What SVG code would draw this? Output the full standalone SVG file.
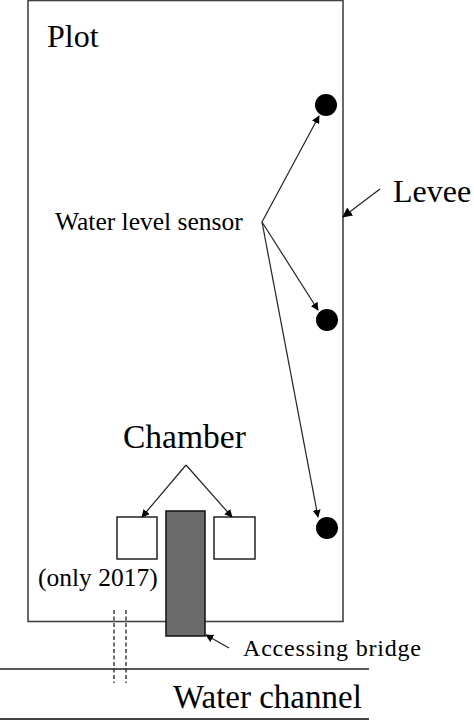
<svg xmlns="http://www.w3.org/2000/svg" width="474" height="721" viewBox="0 0 474 721">
<style>
text{font-family:"Liberation Serif","Times New Roman",serif;fill:#000}
.ln{stroke:#222;stroke-width:1.2;fill:none}
.box{fill:#fff;stroke:#222;stroke-width:1.5}
.dash{stroke:#222;stroke-width:1.3;stroke-dasharray:4,2.5;fill:none}
</style>
<defs>
<marker id="ah" viewBox="0 0 10 10" refX="9" refY="5" markerWidth="8" markerHeight="8" markerUnits="userSpaceOnUse" orient="auto">
<path d="M0,0 L10,5 L0,10 z" fill="#000"/>
</marker>
<marker id="ahL" viewBox="0 0 10 10" refX="9" refY="5" markerWidth="10" markerHeight="10" markerUnits="userSpaceOnUse" orient="auto">
<path d="M0,0 L10,5 L0,10 z" fill="#000"/>
</marker>
</defs>
<rect width="474" height="721" fill="#fff"/>
<g id="plot">
<rect x="28" y="0.5" width="315" height="621" fill="#fff" stroke="#444" stroke-width="1.6"/>
<text x="47" y="47" font-size="32">Plot</text>
</g>
<g id="levee">
<text x="393" y="202" font-size="32">Levee</text>
</g>
<g id="sensor-label">
<text x="55" y="230" font-size="25.5">Water level sensor</text>
</g>
<g id="sensor1"><circle cx="326" cy="105" r="11" fill="#000"/></g>
<g id="sensor2"><circle cx="327" cy="320" r="11" fill="#000"/></g>
<g id="sensor3"><circle cx="327" cy="528" r="11" fill="#000"/></g>
<g id="chamber-label">
<text x="123" y="448" font-size="33.5">Chamber</text>
</g>
<g id="chamber1"><rect class="box" x="117" y="517" width="40" height="42"/></g>
<g id="chamber2"><rect class="box" x="214" y="517" width="41" height="42"/></g>
<g id="only2017"><text x="38" y="586" font-size="25.5">(only 2017)</text></g>
<g id="bridge"><rect x="166" y="511" width="39" height="125" fill="#6b6b6b" stroke="#111" stroke-width="1.5"/></g>
<g id="bridge-label"><text x="243" y="656" font-size="24" textLength="178" lengthAdjust="spacing">Accessing  bridge</text></g>
<g id="channel">
<line x1="0" y1="669" x2="369" y2="669" stroke="#222" stroke-width="1.5"/>
<line x1="0" y1="719" x2="369" y2="719" stroke="#444" stroke-width="2"/>
<text x="173" y="708" font-size="33">Water channel</text>
</g>
<g id="pipe">
<line class="dash" x1="114" y1="610" x2="114" y2="683"/>
<line class="dash" x1="126" y1="610" x2="126" y2="683"/>
</g>
<g id="connectors">
<line class="ln" x1="262" y1="222" x2="319" y2="116" marker-end="url(#ah)"/>
<line class="ln" x1="262" y1="222" x2="318" y2="310" marker-end="url(#ah)"/>
<line class="ln" x1="262" y1="222" x2="318" y2="517" marker-end="url(#ah)"/>
<line class="ln" x1="380" y1="189" x2="343" y2="217" marker-end="url(#ahL)"/>
<line class="ln" x1="186" y1="465" x2="142" y2="517" marker-end="url(#ah)"/>
<line class="ln" x1="186" y1="465" x2="232" y2="517" marker-end="url(#ah)"/>
<line class="ln" x1="229" y1="648" x2="206" y2="635" marker-end="url(#ah)"/>
</g>
</svg>
